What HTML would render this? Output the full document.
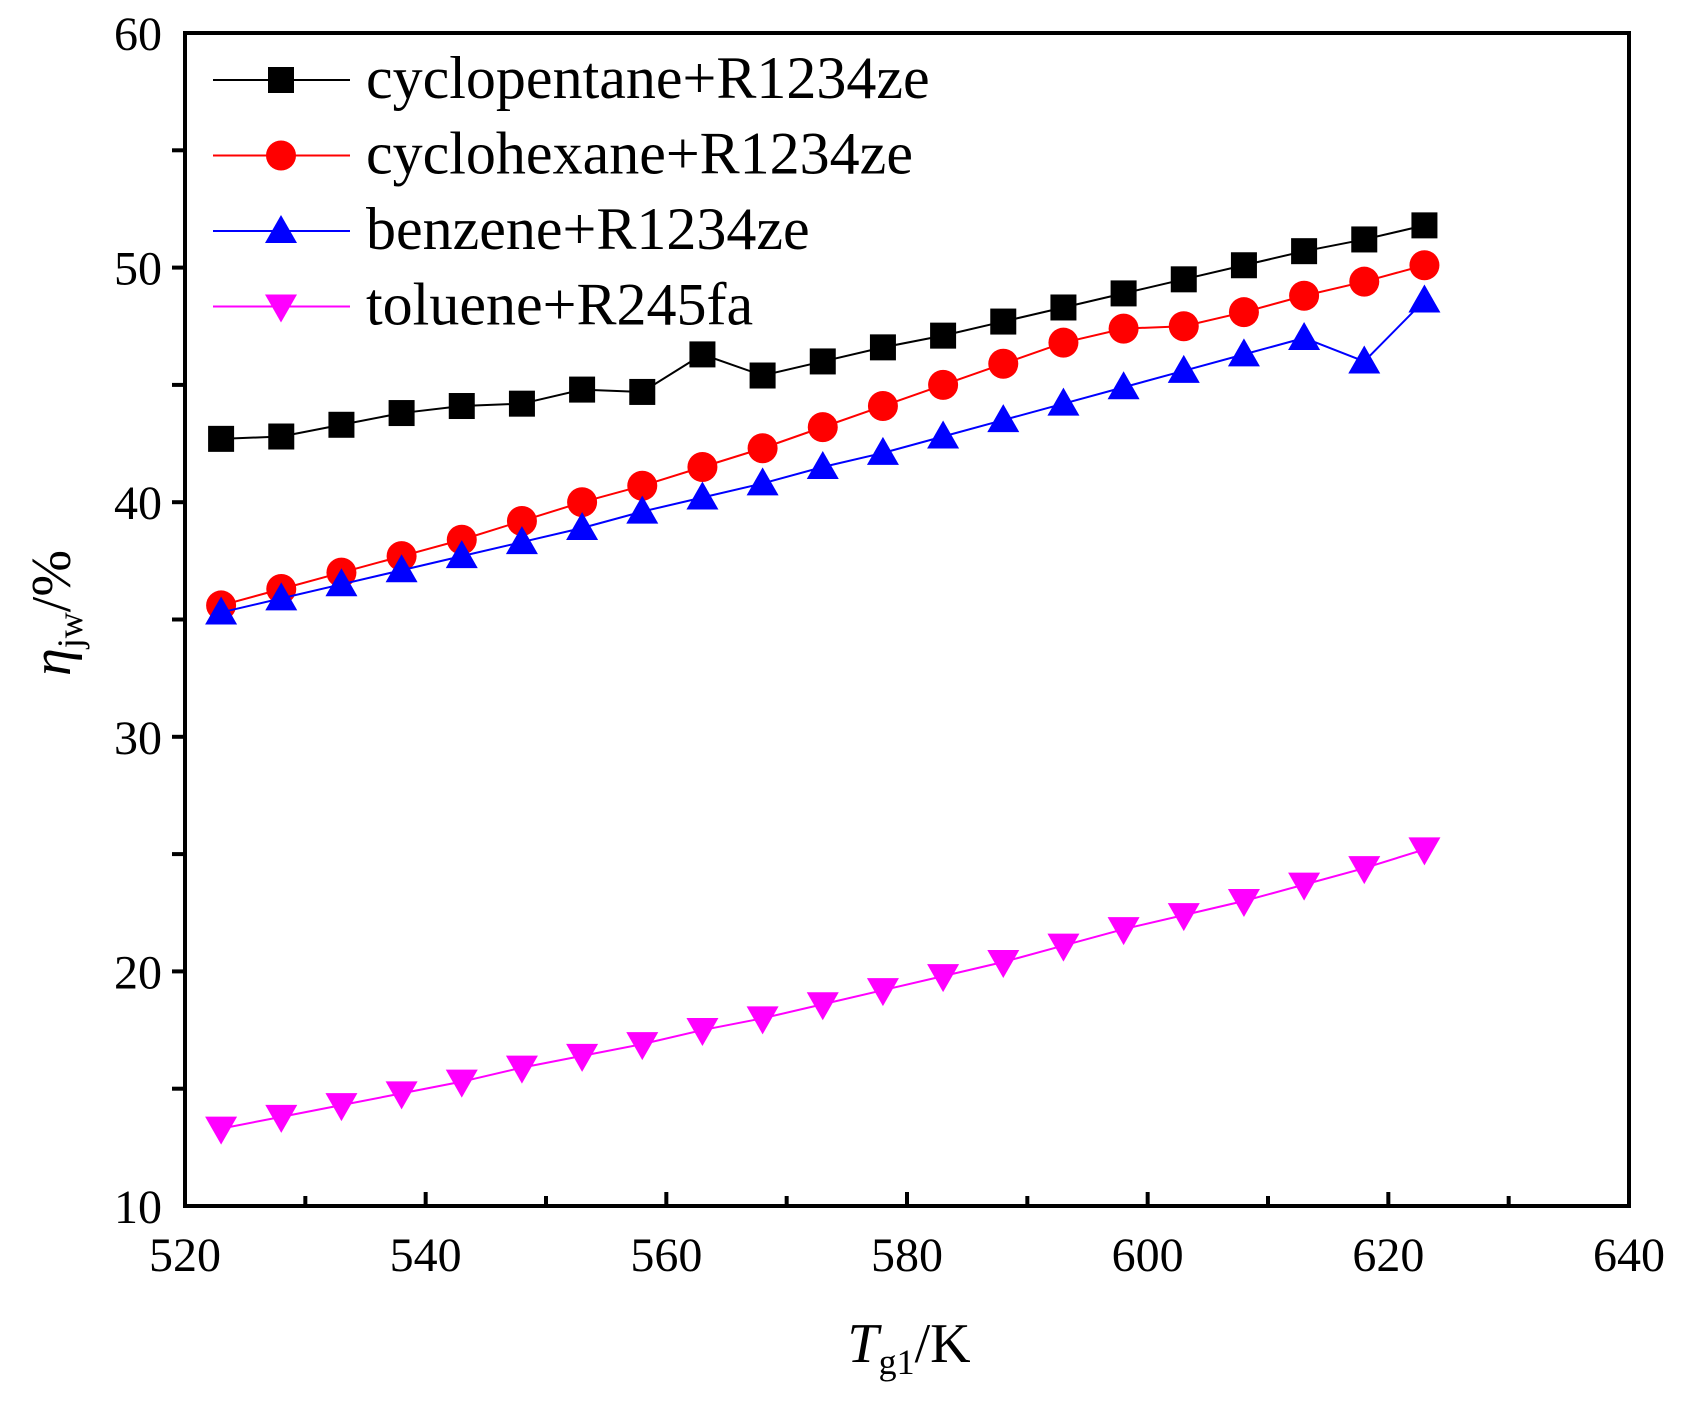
<!DOCTYPE html><html><head><style>body{margin:0;background:#fff}svg{display:block}text{font-family:"Liberation Serif",serif}</style></head><body>
<svg id="s" width="1686" height="1413" viewBox="0 0 1686 1413" xmlns="http://www.w3.org/2000/svg"></svg>
<script>
const s=document.getElementById('s');let h='';
const X0=185,X1=1629,Y0=1206,Y1=33;
const fx=v=>X0+(v-520)/120*(X1-X0), fy=v=>Y0-(v-10)/50*(Y0-Y1);
h+=`<rect x="${X0}" y="${Y1}" width="${X1-X0}" height="${Y0-Y1}" fill="none" stroke="#000" stroke-width="4"/>`;
for(let v=520;v<=640;v+=10){const x=fx(v);if(v>520&&v<640)h+=`<line x1="${x}" y1="${Y0}" x2="${x}" y2="${Y0-(v%20?10:14)}" stroke="#000" stroke-width="4"/>`;if(v%20==0)h+=`<text x="${x}" y="1271" font-size="48" text-anchor="middle">${v}</text>`;}
for(let v=10;v<=60;v+=5){const y=fy(v);if(v>10&&v<60)h+=`<line x1="${X0}" y1="${y}" x2="${X0-13}" y2="${y}" stroke="#000" stroke-width="4"/>`;if(v%10==0)h+=`<text x="162" y="${y+17}" font-size="48" text-anchor="end">${v}</text>`;}
const D=[
['#000','sq',[42.7,42.8,43.3,43.8,44.1,44.2,44.8,44.7,46.3,45.4,46.0,46.6,47.1,47.7,48.3,48.9,49.5,50.1,50.7,51.2,51.8],'cyclopentane+R1234ze'],
['#f00','ci',[35.6,36.3,37.0,37.7,38.4,39.2,40.0,40.7,41.5,42.3,43.2,44.1,45.0,45.9,46.8,47.4,47.5,48.1,48.8,49.4,50.1],'cyclohexane+R1234ze'],
['#00f','tu',[35.3,35.9,36.5,37.1,37.7,38.3,38.9,39.6,40.2,40.8,41.5,42.1,42.8,43.5,44.2,44.9,45.6,46.3,47.0,46.0,48.6],'benzene+R1234ze'],
['#f0f','td',[13.3,13.8,14.3,14.8,15.3,15.9,16.4,16.9,17.5,18.0,18.6,19.2,19.8,20.4,21.1,21.8,22.4,23.0,23.7,24.4,25.2],'toluene+R245fa']];
function mk(t,x,y,c){if(t=='sq')return `<rect x="${x-13}" y="${y-13}" width="26" height="26" fill="${c}"/>`;
if(t=='ci')return `<circle cx="${x}" cy="${y}" r="15" fill="${c}"/>`;
if(t=='tu')return `<polygon points="${x},${y-16} ${x-16},${y+12} ${x+16},${y+12}" fill="${c}"/>`;
return `<polygon points="${x},${y+16} ${x-16},${y-12} ${x+16},${y-12}" fill="${c}"/>`;}
D.forEach((d,i)=>{const p=d[2].map((v,j)=>[fx(523+5*j),fy(v)]);
h+=`<polyline points="${p.map(q=>q.join(',')).join(' ')}" fill="none" stroke="${d[0]}" stroke-width="2"/>`;
p.forEach(q=>h+=mk(d[1],q[0],q[1],d[0]));
const ly=80+i*75.5;h+=`<line x1="213" y1="${ly}" x2="350" y2="${ly}" stroke="${d[0]}" stroke-width="2"/>`+mk(d[1],281,ly,d[0]);
h+=`<text x="366" y="${ly+18}" font-size="60">${d[3]}</text>`;});
h+=`<text x="909" y="1362" font-size="56" text-anchor="middle"><tspan font-style="italic">T</tspan><tspan font-size="36" dy="12">g1</tspan><tspan dy="-12">/K</tspan></text>`;
h+=`<text transform="translate(70,613) rotate(-90)" font-size="56" text-anchor="middle"><tspan font-style="italic">η</tspan><tspan font-size="36" dy="12">jw</tspan><tspan dy="-12">/%</tspan></text>`;
s.innerHTML=h;
</script></body></html>
